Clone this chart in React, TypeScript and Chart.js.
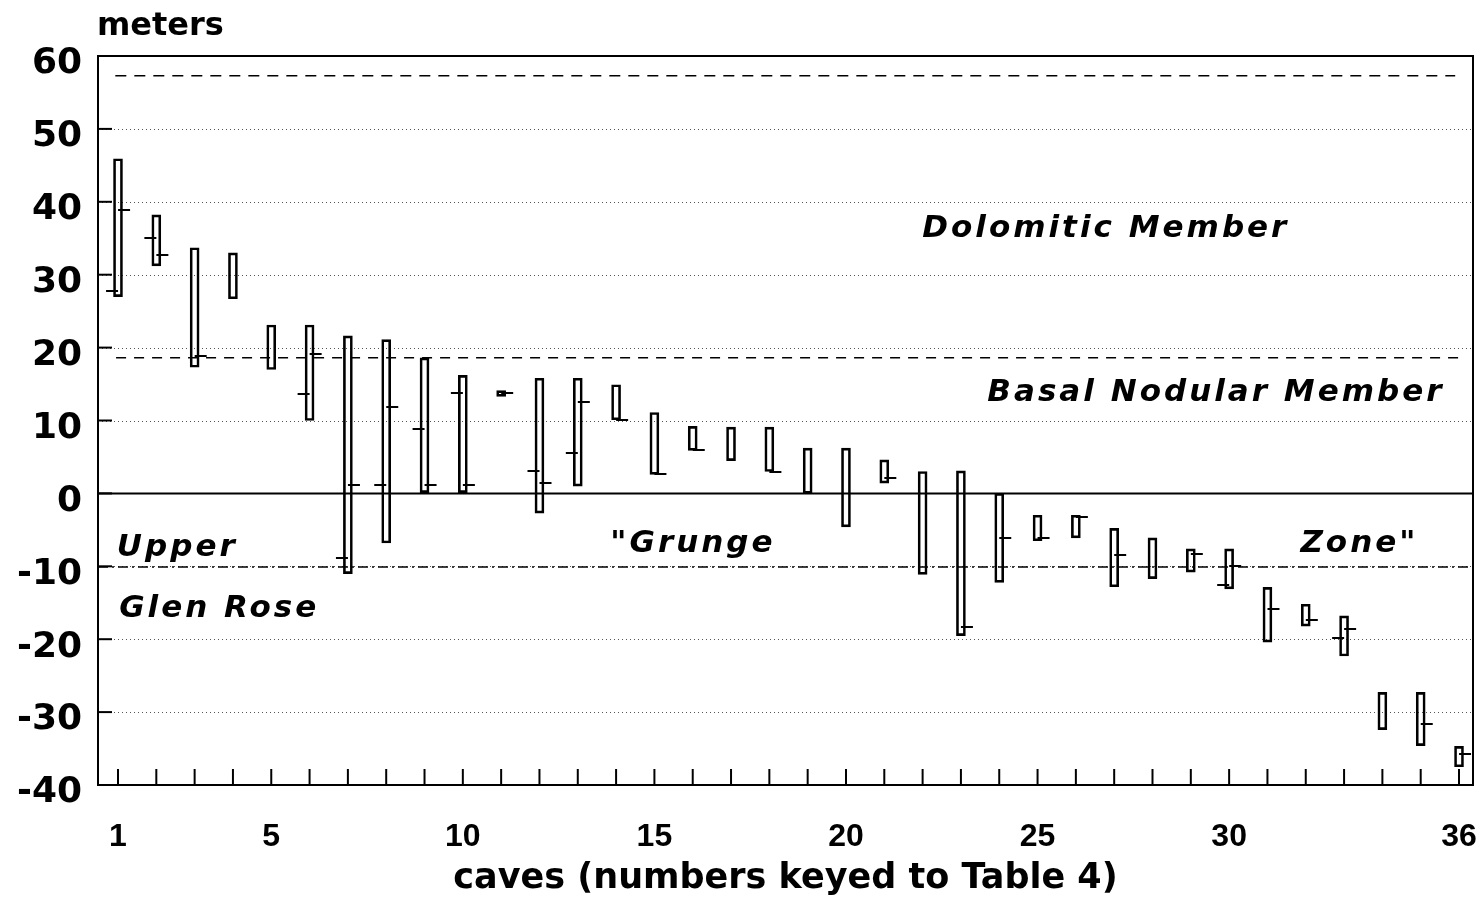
import { useEffect, useRef } from 'react';
import { Chart, registerables } from 'chart.js';

Chart.register(...registerables);

// caves keyed to Table 4
const CAVES = [1, 2, 3, 4, 5, 6, 7, 8, 9, 10, 11, 12, 13, 14, 15, 16, 17, 18, 19, 20, 21, 22, 23, 24, 25, 26, 27, 28, 29, 30, 31, 32, 33, 34, 35, 36];
// bottom and top of each cave's vertical range (meters)
const BAR_LOW = [27.0, 31.2, 17.3, 26.7, 17.0, 10.0, -11.0, -6.8, 0.1, 0.1, 13.3, -2.7, 1.0, 10.1, 2.6, 5.9, 4.5, 3.0, 0.0, -4.6, 1.4, -11.1, -19.5, -12.2, -6.5, -6.1, -12.8, -11.7, -10.8, -13.1, -20.4, -18.2, -22.3, -32.4, -34.6, -37.5];
const BAR_HIGH = [45.9, 38.2, 33.7, 33.0, 23.1, 23.1, 21.6, 21.1, 18.6, 16.2, 14.1, 15.8, 15.8, 14.9, 11.1, 9.2, 9.1, 9.1, 6.2, 6.2, 4.6, 3.0, 3.1, 0.0, -3.0, -3.0, -4.8, -6.1, -7.6, -7.6, -12.9, -15.2, -16.8, -27.3, -27.3, -34.7];
// left-hand and right-hand tick marks (null = none)
const LEFT_TICK: (number | null)[] = [27.7, 35.1, null, null, null, 13.6, -8.9, 1.2, 8.9, 13.8, null, 3.1, 5.6, null, null, null, null, null, null, null, null, null, null, null, null, null, null, null, null, -12.6, null, null, -19.8, null, null, null];
const RIGHT_TICK: (number | null)[] = [38.9, 32.7, 18.9, null, null, 19.1, 1.1, 11.8, 1.2, 1.2, 13.8, 1.4, 12.6, 10.1, 2.6, 5.9, null, 3.0, null, null, 2.1, null, -18.3, -6.1, -6.1, -3.3, -8.5, null, -8.3, -9.9, -15.9, -17.4, -18.6, null, -31.7, -35.8];

const X_TICK_LABELS = [1, 5, 10, 15, 20, 25, 30, 36];
const Y_TICKS = [-40, -30, -20, -10, 0, 10, 20, 30, 40, 50, 60];
const X_MIN = 0.478;
const X_MAX = 36.365;
const Y_MIN = -40;
const Y_MAX = 60;

// horizontal boundary lines (meters) and their extent in cave units
const DOLOMITIC_TOP = 57.3;
const DOLOMITIC_SPAN = [0.93, 35.9];
const BASAL_TOP = 18.6;
const BASAL_SPAN = [0.95, 36.17];
const ZERO_LINE = 0;
const GRUNGE_BASE = -10.1;

const ANNOTATIONS = [
  { text: 'Dolomitic Member', x: 21.99, y: 35.2 },
  { text: 'Basal Nodular Member', x: 23.69, y: 12.7 },
  { text: 'Upper', x: 0.97, y: -8.6 },
  { text: 'Glen Rose', x: 1.03, y: -17.0 },
  { text: '"Grunge', x: 13.85, y: -8.1 },
  { text: 'Zone"', x: 31.86, y: -8.1 },
];

const Y_TITLE = 'meters';
const X_TITLE = 'caves (numbers keyed to Table 4)';

function makeTick(side: 'left' | 'right') {
  const c = document.createElement('canvas');
  c.width = 26;
  c.height = 2;
  const g = c.getContext('2d')!;
  g.fillStyle = '#000';
  if (side === 'left') g.fillRect(1, 0, 12, 2);
  else g.fillRect(13, 0, 12, 2);
  return c;
}

const framePlugin = {
  id: 'frame',
  beforeDatasetsDraw(chart: any) {
    const { ctx, chartArea: a, scales } = chart;
    const ys = scales.y;
    ctx.save();
    ctx.strokeStyle = '#555';
    ctx.lineWidth = 1;
    ctx.setLineDash([1, 3]);
    Y_TICKS.forEach((v) => {
      if (v === Y_MIN || v === Y_MAX) return;
      const py = Math.round(ys.getPixelForValue(v)) + 0.5;
      ctx.beginPath();
      ctx.moveTo(a.left, py);
      ctx.lineTo(a.right, py);
      ctx.stroke();
    });
    ctx.restore();
  },
  afterDatasetsDraw(chart: any) {
    const { ctx, chartArea: a, scales } = chart;
    const xs = scales.x;
    const ys = scales.y;
    ctx.save();
    ctx.strokeStyle = '#000';
    ctx.lineWidth = 2;
    ctx.setLineDash([]);
    ctx.strokeRect(a.left, a.top, a.right - a.left, a.bottom - a.top);
    // inward y ticks
    Y_TICKS.forEach((v) => {
      const py = ys.getPixelForValue(v);
      ctx.beginPath();
      ctx.moveTo(a.left, py);
      ctx.lineTo(a.left + 14, py);
      ctx.stroke();
    });
    // inward x ticks
    CAVES.forEach((c) => {
      const px = xs.getPixelForValue(c);
      ctx.beginPath();
      ctx.moveTo(px, a.bottom);
      ctx.lineTo(px, a.bottom - 16);
      ctx.stroke();
    });
    // annotations
    ctx.fillStyle = '#000';
    ctx.textAlign = 'left';
    ctx.textBaseline = 'alphabetic';
    ctx.font = "italic bold 31px 'DejaVu Sans', sans-serif";
    (ctx as any).letterSpacing = '3px';
    ANNOTATIONS.forEach((t) => {
      ctx.fillText(t.text, xs.getPixelForValue(t.x), ys.getPixelForValue(t.y));
    });
    (ctx as any).letterSpacing = '0px';
    ctx.font = "bold 32px 'DejaVu Sans', sans-serif";
    ctx.fillText(Y_TITLE, a.left - 1, a.top - 21);
    ctx.restore();
  },
};

export default function App() {
  const ref = useRef<HTMLCanvasElement>(null);
  useEffect(() => {
    const canvas = ref.current!;
    const leftImg = makeTick('left');
    const rightImg = makeTick('right');
    const barData = CAVES.map((c, i) => ({ x: c, y: [BAR_LOW[i], BAR_HIGH[i]] }));
    const leftData = CAVES.map((c, i) => (LEFT_TICK[i] == null ? null : { x: c, y: LEFT_TICK[i] })).filter(Boolean);
    const rightData = CAVES.map((c, i) => (RIGHT_TICK[i] == null ? null : { x: c, y: RIGHT_TICK[i] })).filter(Boolean);
    const refLine = (y: number, span: number[], dash: number[], width: number) => ({
      type: 'line' as const,
      data: [{ x: span[0], y }, { x: span[1], y }],
      borderColor: '#000',
      borderWidth: width,
      borderDash: dash,
      pointRadius: 0,
      fill: false,
      order: 3,
    });
    const chart = new Chart(canvas, {
      type: 'bar',
      data: {
        datasets: [
          {
            type: 'bar',
            data: barData as any,
            backgroundColor: 'rgba(0,0,0,0)',
            borderColor: '#000',
            borderWidth: 2,
            borderSkipped: false,
            barThickness: 9,
            order: 2,
          } as any,
          { type: 'scatter', data: leftData as any, pointStyle: leftImg, pointRadius: 3, order: 0 } as any,
          { type: 'scatter', data: rightData as any, pointStyle: rightImg, pointRadius: 3, order: 0 } as any,
          refLine(DOLOMITIC_TOP, DOLOMITIC_SPAN, [11, 8], 1.6) as any,
          refLine(BASAL_TOP, BASAL_SPAN, [10, 8], 1.6) as any,
          refLine(ZERO_LINE, [X_MIN, X_MAX], [], 2) as any,
          refLine(GRUNGE_BASE, [X_MIN, X_MAX], [10, 4, 2, 4], 1.5) as any,
        ],
      },
      options: {
        responsive: false,
        animation: false,
        events: [],
        layout: { autoPadding: false, padding: { top: 56, right: 11, bottom: 0, left: 0 } },
        plugins: { legend: { display: false }, tooltip: { enabled: false } },
        scales: {
          x: {
            type: 'linear',
            min: X_MIN,
            max: X_MAX,
            offset: false,
            grid: { display: false },
            border: { display: false },
            afterBuildTicks: (s: any) => {
              s.ticks = X_TICK_LABELS.map((v) => ({ value: v }));
            },
            afterFit: (s: any) => {
              s.height = 115;
              s.paddingLeft = 0;
              s.paddingRight = 0;
            },
            ticks: {
              autoSkip: false,
              maxRotation: 0,
              color: '#000',
              padding: 25,
              font: { family: "'Liberation Sans', Arial, sans-serif", size: 32, weight: 'bold' },
              callback: (v: any) => String(v),
            },
            title: {
              display: true,
              text: X_TITLE,
              color: '#000',
              padding: { top: 0, bottom: 0 },
              font: { family: "'DejaVu Sans', sans-serif", size: 35, weight: 'bold' },
            },
          } as any,
          y: {
            type: 'linear',
            min: Y_MIN,
            max: Y_MAX,
            grid: { display: false },
            border: { display: false },
            afterFit: (s: any) => {
              s.width = 98;
              s.paddingTop = 0;
              s.paddingBottom = 0;
            },
            ticks: {
              stepSize: 10,
              color: '#000',
              padding: 8,
              labelOffset: 8,
              font: { family: "'DejaVu Sans', sans-serif", size: 36, weight: 'bold' },
              callback: (v: any) => String(v),
            },
          } as any,
        },
      },
      plugins: [framePlugin],
    });
    return () => chart.destroy();
  }, []);
  return (
    <div style={{ position: 'fixed', left: 0, top: 0, width: 1484, height: 900, background: '#fff' }}>
      <canvas ref={ref} width={1484} height={900} style={{ display: 'block' }} />
    </div>
  );
}
